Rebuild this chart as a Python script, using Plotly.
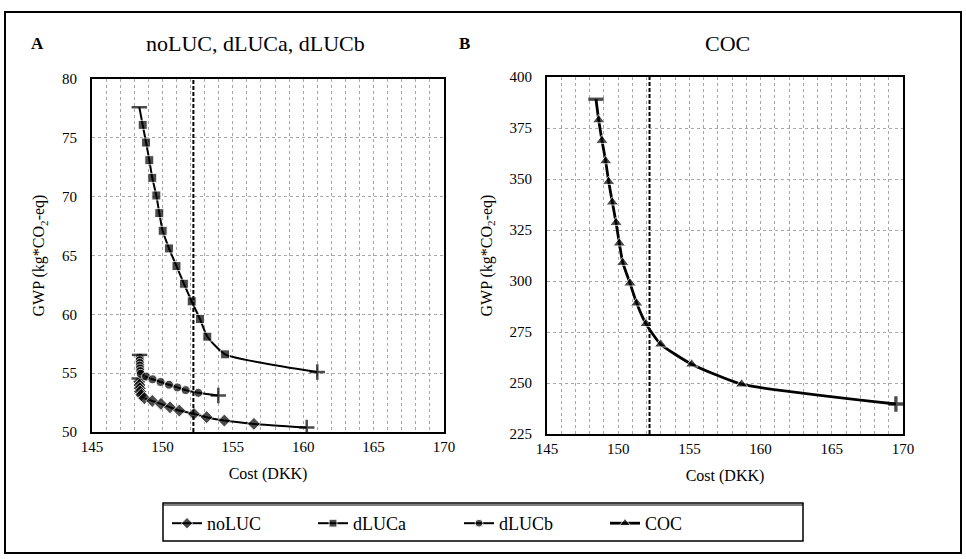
import plotly.graph_objects as go

# ---------------- data ----------------
noluc_cost = [148.35, 148.36, 148.37, 148.39, 148.42, 148.50, 148.72, 149.28,
              149.90, 150.54, 151.20, 152.24, 153.14, 154.40, 156.50, 160.25]
noluc_gwp = [54.55, 54.27, 53.99, 53.71, 53.43, 53.15, 52.87, 52.64,
             52.39, 52.10, 51.82, 51.54, 51.26, 50.97, 50.69, 50.38]

dluca_cost = [148.36, 148.60, 148.84, 149.07, 149.28, 149.57, 149.78, 150.02,
              150.47, 151.00, 151.53, 152.08, 152.67, 153.19, 154.45, 161.00]
dluca_gwp = [77.6, 76.1, 74.6, 73.1, 71.6, 70.1, 68.6, 67.1,
             65.6, 64.1, 62.6, 61.1, 59.6, 58.1, 56.6, 55.1]

dlucb_cost = [148.38, 148.39, 148.39, 148.40, 148.40, 148.41, 148.43, 148.46,
              148.84, 149.30, 149.87, 150.47, 151.06, 151.65, 152.55, 153.97]
dlucb_gwp = [56.55, 56.32, 56.09, 55.86, 55.63, 55.40, 55.17, 54.94,
             54.71, 54.48, 54.25, 54.02, 53.79, 53.56, 53.33, 53.10]

coc_cost = [148.44, 148.63, 148.86, 149.12, 149.33, 149.59, 149.85, 150.08,
            150.32, 150.83, 151.30, 151.95, 152.98, 155.16, 158.67, 169.50]
coc_gwp = [389.1, 378.9, 368.8, 358.8, 348.7, 338.6, 328.6, 318.5,
           309.0, 298.9, 289.1, 279.0, 269.0, 259.2, 249.4, 239.7]

ref_cost = 152.2  # dashed reference line (both panels)

x_range = [145, 170]
ya_range = [50, 80]
yb_range = [225, 400]

FONT = "Times New Roman, Liberation Serif, serif"
W, H = 966, 559

fig = go.Figure()


def add_series(name, xs, ys, symbol, msize, lw, xa, ya):
    n = len(xs)
    sizes = [0] + [msize] * (n - 2) + [0]
    fig.add_trace(go.Scatter(
        x=xs, y=ys, name=name, mode="lines+markers",
        line=dict(color="black", width=lw, shape="spline", smoothing=0.5),
        marker=dict(symbol=symbol, size=sizes, color="black"),
        xaxis=xa, yaxis=ya, showlegend=True))
    # end-point markers (dash at start, plus at end)
    fig.add_trace(go.Scatter(
        x=[xs[0], xs[-1]], y=[ys[0], ys[-1]], mode="markers",
        marker=dict(symbol=["line-ew", "cross-thin"], size=[11, 11],
                    color="black", line=dict(color="black", width=lw + 0.5)),
        xaxis=xa, yaxis=ya, showlegend=False, hoverinfo="skip"))


add_series("noLUC", noluc_cost, noluc_gwp, "diamond", 10, 2, "x", "y")
add_series("dLUCa", dluca_cost, dluca_gwp, "square", 9, 2, "x", "y")
add_series("dLUCb", dlucb_cost, dlucb_gwp, "circle", 9, 2, "x", "y")
add_series("COC", coc_cost, coc_gwp, "triangle-up", 11, 2.8, "x2", "y2")

GRIDC = "#a8a8a8"
grid = dict(showgrid=True, gridcolor=GRIDC, griddash="dot", gridwidth=1)
axline = dict(showline=True, linecolor="black", linewidth=2, mirror=True,
              ticks="", zeroline=False, automargin=False,
              tickfont=dict(family=FONT, size=15, color="black"))

xcommon = dict(range=x_range, dtick=5, tick0=145, ticklabelstandoff=0,
               minor=dict(dtick=1, showgrid=True, gridcolor=GRIDC,
                          griddash="dot", gridwidth=1),
               title=dict(text="Cost (DKK)", font=dict(family=FONT, size=16, color="black"),
                          standoff=14),
               **grid, **axline)

fig.update_layout(
    width=W, height=H,
    margin=dict(l=0, r=0, t=0, b=0),
    paper_bgcolor="white", plot_bgcolor="white",
    font=dict(family=FONT, color="black"),
    xaxis=dict(domain=[92 / W, 444 / W], anchor="y", **xcommon),
    yaxis=dict(domain=[(H - 432) / H, (H - 79) / H], anchor="x", range=ya_range, dtick=5,
               ticklabelstandoff=10,
               title=dict(text="GWP (kg*CO<sub>2</sub>-eq)",
                          font=dict(family=FONT, size=16, color="black"), standoff=13),
               **grid, **axline),
    xaxis2=dict(domain=[547 / W, 903 / W], anchor="y2", **xcommon),
    yaxis2=dict(domain=[(H - 434) / H, (H - 77) / H], anchor="x2", range=yb_range, dtick=25,
                ticklabelstandoff=10,
                title=dict(text="GWP (kg*CO<sub>2</sub>-eq)",
                           font=dict(family=FONT, size=16, color="black"), standoff=13),
                **grid, **axline),
    legend=dict(orientation="h", x=167 / W, xanchor="left", y=(H - 505) / H, yanchor="top",
                borderwidth=0, bgcolor="rgba(0,0,0,0)",
                font=dict(family=FONT, size=18, color="black"),
                entrywidth=101, entrywidthmode="pixels",
                itemsizing="trace", traceorder="normal"),
    hovermode=False,
)

# reference dashed lines
for xa, ya in (("x", "y"), ("x2", "y2")):
    fig.add_shape(type="line", xref=xa, yref=f"{ya} domain", x0=ref_cost, x1=ref_cost,
                  y0=0, y1=1, line=dict(color="black", width=2, dash="4px,2px"))

# legend frame
fig.add_shape(type="rect", xref="paper", yref="paper",
              x0=163 / W, x1=803 / W, y0=(H - 541) / H, y1=(H - 503) / H,
              line=dict(color="black", width=1.5))
fig.add_shape(type="line", xref="paper", yref="paper",
              x0=163 / W, x1=803 / W, y0=(H - 505) / H, y1=(H - 505) / H,
              line=dict(color="black", width=1))

# outer frame
fig.add_shape(type="rect", xref="paper", yref="paper",
              x0=5 / W, x1=961 / W, y0=(H - 553) / H, y1=(H - 12) / H,
              line=dict(color="black", width=2))

# panel titles and letters
ann = [
    ("<b>A</b>", 37, 44, 17),
    ("noLUC, dLUCa, dLUCb", 255, 44, 22),
    ("<b>B</b>", 464, 44, 17),
    ("COC", 727, 44, 22),
]
for text, x, y, size in ann:
    fig.add_annotation(xref="paper", yref="paper", showarrow=False,
                       xanchor="center", yanchor="middle",
                       text=text, x=x / W, y=(H - y) / H,
                       font=dict(family=FONT, color="black", size=size))

fig.write_html("out.html", config={"displayModeBar": False},
               post_script="document.body.style.margin='0';")
